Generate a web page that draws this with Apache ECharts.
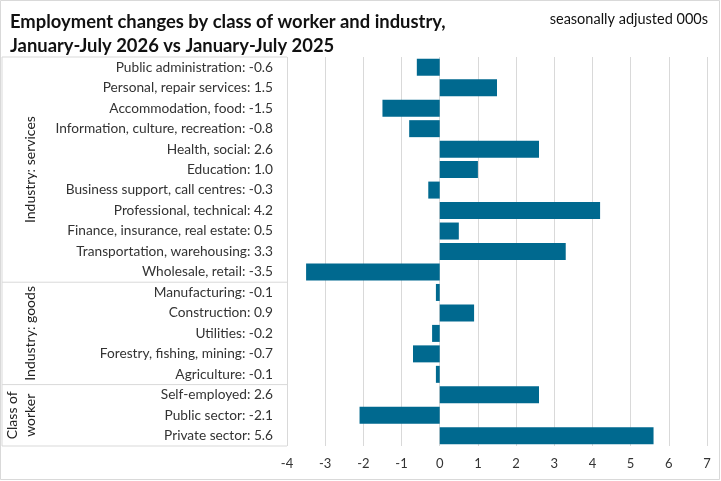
<!DOCTYPE html>
<html>
<head>
<meta charset="utf-8">
<script src="https://cdn.jsdelivr.net/npm/echarts@6/dist/echarts.min.js"></script>
<style>
html,body{margin:0;padding:0;background:#fff;}
#chart{width:721px;height:481px;}
</style>
</head>
<body>
<div id="chart"></div>
<script>
const categories = [
  'Public administration', 'Personal, repair services', 'Accommodation, food',
  'Information, culture, recreation', 'Health, social', 'Education',
  'Business support, call centres', 'Professional, technical',
  'Finance, insurance, real estate', 'Transportation, warehousing',
  'Wholesale, retail', 'Manufacturing', 'Construction', 'Utilities',
  'Forestry, fishing, mining', 'Agriculture', 'Self-employed',
  'Public sector', 'Private sector'
];
const values = [-0.6, 1.5, -1.5, -0.8, 2.6, 1.0, -0.3, 4.2, 0.5, 3.3, -3.5,
  -0.1, 0.9, -0.2, -0.7, -0.1, 2.6, -2.1, 5.6];
const groupNames = ['Industry: services', 'Industry: goods', 'Class of\nworker'];
const groupSizes = [11, 5, 3];
const xMin = -4, xMax = 7, xStep = 1;
const titleText = 'Employment changes by class of worker and industry,\nJanuary-July 2026 vs January-July 2025';
const subtitleText = 'seasonally adjusted 000s';

const FONT = 'Lato';
const chart = echarts.init(document.getElementById('chart'), null, {renderer: 'canvas'});
const option = {
  animation: false,
  backgroundColor: '#fff',
  title: [{
    text: titleText, left: 5, top: 5,
    textStyle: {fontFamily: FONT, fontWeight: 'bold', fontSize: 18.4, color: '#111', lineHeight: 24}
  }, {
    text: subtitleText, right: 8, top: 7,
    textStyle: {fontFamily: FONT, fontWeight: 'normal', fontSize: 14.5, color: '#111'}
  }],
  grid: {left: 287, right: 14, top: 57, bottom: 35, containLabel: false},
  xAxis: {
    type: 'value', min: xMin, max: xMax, interval: xStep,
    axisLine: {show: false}, axisTick: {show: false},
    axisLabel: {fontFamily: FONT, fontSize: 13, color: '#333', margin: 11},
    splitLine: {show: true, lineStyle: {color: '#d9d9d9', width: 1}}
  },
  yAxis: {
    type: 'category', inverse: true, data: categories,
    axisLine: {show: false}, axisTick: {show: false},
    axisLabel: {
      fontFamily: FONT, fontSize: 13.7, color: '#333', margin: 14,
      formatter: (v, i) => v + ': ' + values[i].toFixed(1)
    }
  },
  series: [{
    type: 'bar', data: values, barCategoryGap: '17%',
    itemStyle: {color: '#00698F'}
  }]
};
chart.setOption(option);

function buildGraphics() {
  const centers = categories.map((c, i) => chart.convertToPixel({yAxisIndex: 0}, i));
  const band = centers[1] - centers[0];
  const top = centers[0] - band / 2;
  const bottom = centers[centers.length - 1] + band / 2;
  const right = chart.convertToPixel({xAxisIndex: 0}, xMin);
  const left = 2;
  const lineStyle = {stroke: '#d9d9d9', lineWidth: 1};
  const g = [];
  g.push({type: 'rect', shape: {x: 0.5, y: 0.5, width: 719, height: 479}, style: {fill: 'none', stroke: '#d9d9d9', lineWidth: 1}, silent: true});
  g.push({type: 'line', shape: {x1: left, y1: top, x2: right, y2: top}, style: lineStyle});
  g.push({type: 'line', shape: {x1: left, y1: top, x2: left, y2: bottom}, style: lineStyle});
  let start = 0;
  groupSizes.forEach((n, k) => {
    const y0 = centers[start] - band / 2;
    const y1 = centers[start + n - 1] + band / 2;
    g.push({type: 'line', shape: {x1: left, y1: y1, x2: right, y2: y1}, style: lineStyle});
    g.push({
      type: 'text', x: 39, y: (y0 + y1) / 2, rotation: Math.PI / 2,
      style: {text: groupNames[k], fontFamily: FONT, fontSize: 14, fill: '#222', align: 'center', verticalAlign: 'bottom', lineHeight: 18}
    });
    start += n;
  });
  chart.setOption({graphic: g});
}
buildGraphics();
</script>
</body>
</html>
